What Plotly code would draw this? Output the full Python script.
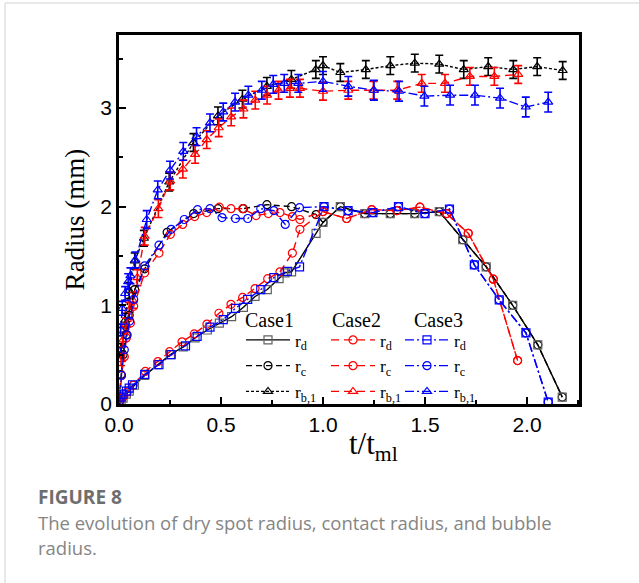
import plotly.graph_objects as go

# ---------------- data ----------------
c1_rd_t = [0.0, 0.01, 0.02, 0.036, 0.05, 0.076, 0.126, 0.19, 0.252, 0.315, 0.373, 0.433, 0.492, 0.552, 0.61, 0.667, 0.727, 0.785, 0.814, 0.846, 0.966, 1.0, 1.085, 1.205, 1.33, 1.45, 1.57, 1.685, 1.80, 1.93, 2.053, 2.173]
c1_rd_r = [0.0, 0.03, 0.06, 0.10, 0.13, 0.19, 0.29, 0.40, 0.50, 0.58, 0.67, 0.75, 0.82, 0.885, 0.98, 1.09, 1.16, 1.27, 1.33, 1.34, 1.73, 1.84, 2.00, 1.93, 1.93, 1.93, 1.95, 1.665, 1.39, 1.00, 0.60, 0.07]

c1_rc_t = [0.0, 0.01, 0.02, 0.036, 0.05, 0.077, 0.126, 0.236, 0.366, 0.485, 0.61, 0.725, 0.846, 0.966, 1.0, 1.085, 1.205, 1.33, 1.45, 1.57, 1.685, 1.80, 1.93, 2.053, 2.173]
c1_rc_r = [0.05, 0.30, 0.50, 0.70, 0.90, 1.16, 1.37, 1.74, 1.93, 1.98, 1.98, 2.02, 2.00, 1.92, 1.84, 2.00, 1.93, 1.93, 1.93, 1.95, 1.665, 1.39, 1.00, 0.60, 0.07]

c1_rb_t = [0.01, 0.03, 0.05, 0.077, 0.122, 0.246, 0.365, 0.485, 0.605, 0.725, 0.845, 0.965, 1.0, 1.085, 1.21, 1.33, 1.45, 1.57, 1.69, 1.81, 1.933, 2.05, 2.175]
c1_rb_r = [0.55, 0.85, 1.15, 1.45, 1.68, 2.25, 2.65, 2.92, 3.09, 3.22, 3.29, 3.39, 3.43, 3.36, 3.39, 3.43, 3.455, 3.445, 3.39, 3.42, 3.39, 3.42, 3.38]
c1_rb_e = [0.06, 0.07, 0.08, 0.08, 0.08, 0.09, 0.09, 0.09, 0.09, 0.09, 0.09, 0.09, 0.09, 0.09, 0.09, 0.09, 0.09, 0.09, 0.09, 0.09, 0.09, 0.09, 0.09]

c2_rd_t = [0.0, 0.02, 0.04, 0.07, 0.129, 0.191, 0.248, 0.309, 0.369, 0.431, 0.49, 0.549, 0.606, 0.667, 0.729, 0.789, 0.85, 0.887, 1.0, 1.116, 1.239, 1.362, 1.475, 1.606, 1.712, 1.835, 1.954]
c2_rd_r = [0.02, 0.07, 0.12, 0.19, 0.33, 0.43, 0.53, 0.63, 0.71, 0.81, 0.92, 1.01, 1.08, 1.17, 1.27, 1.34, 1.53, 1.77, 1.95, 1.88, 1.97, 1.96, 1.995, 1.93, 1.73, 1.265, 0.44]

c2_rc_t = [0.005, 0.012, 0.026, 0.036, 0.056, 0.072, 0.126, 0.196, 0.252, 0.312, 0.371, 0.43, 0.492, 0.549, 0.606, 0.672, 0.732, 0.789, 0.85, 0.887, 1.0, 1.116, 1.239, 1.362, 1.475, 1.606, 1.712, 1.835, 1.954]
c2_rc_r = [0.05, 0.29, 0.48, 0.67, 0.82, 0.99, 1.33, 1.53, 1.72, 1.82, 1.90, 1.94, 1.995, 1.98, 1.98, 1.91, 1.93, 1.94, 1.90, 1.87, 1.95, 1.88, 1.97, 1.96, 1.995, 1.93, 1.73, 1.265, 0.44]

c2_rb_t = [0.01, 0.02, 0.035, 0.05, 0.068, 0.09, 0.126, 0.193, 0.251, 0.313, 0.373, 0.43, 0.489, 0.55, 0.61, 0.668, 0.726, 0.782, 0.838, 0.887, 1.0, 1.124, 1.247, 1.364, 1.484, 1.598, 1.72, 1.84, 1.957]
c2_rb_r = [0.45, 0.65, 0.80, 0.95, 1.05, 1.28, 1.70, 1.98, 2.26, 2.38, 2.53, 2.68, 2.80, 2.91, 2.99, 3.08, 3.13, 3.18, 3.20, 3.20, 3.17, 3.18, 3.18, 3.18, 3.25, 3.25, 3.32, 3.32, 3.34]
c2_rb_e = [0.06, 0.07, 0.07, 0.08, 0.08, 0.08, 0.09, 0.09, 0.09, 0.09, 0.09, 0.09, 0.09, 0.09, 0.09, 0.09, 0.09, 0.09, 0.09, 0.09, 0.09, 0.09, 0.09, 0.09, 0.09, 0.09, 0.09, 0.09, 0.09]

c3_rd_t = [0.0, 0.01, 0.02, 0.036, 0.05, 0.066, 0.126, 0.196, 0.256, 0.326, 0.383, 0.446, 0.511, 0.571, 0.631, 0.695, 0.759, 0.825, 0.885, 1.005, 1.123, 1.245, 1.37, 1.50, 1.62, 1.742, 1.864, 1.995, 2.104]
c3_rd_r = [0.02, 0.07, 0.10, 0.13, 0.16, 0.195, 0.30, 0.40, 0.50, 0.59, 0.685, 0.78, 0.855, 0.97, 1.06, 1.16, 1.28, 1.345, 1.39, 2.00, 1.96, 1.94, 2.00, 1.93, 1.975, 1.41, 1.055, 0.72, 0.02]

c3_rc_t = [0.005, 0.012, 0.026, 0.04, 0.052, 0.072, 0.126, 0.196, 0.256, 0.32, 0.385, 0.446, 0.505, 0.571, 0.631, 0.695, 0.759, 0.815, 0.885, 1.005, 1.123, 1.245, 1.37, 1.50, 1.62, 1.742, 1.864, 1.995, 2.104]
c3_rc_r = [0.05, 0.29, 0.55, 0.70, 0.84, 1.06, 1.40, 1.61, 1.77, 1.87, 1.97, 1.98, 1.89, 1.88, 1.88, 1.98, 1.96, 1.82, 1.99, 2.00, 1.96, 1.94, 2.00, 1.93, 1.975, 1.41, 1.055, 0.72, 0.02]

c3_rb_t = [0.008, 0.016, 0.03, 0.045, 0.056, 0.08, 0.136, 0.19, 0.25, 0.315, 0.38, 0.446, 0.511, 0.569, 0.634, 0.70, 0.756, 0.81, 0.879, 1.0, 1.124, 1.25, 1.373, 1.497, 1.623, 1.745, 1.868, 1.994, 2.104]
c3_rb_r = [0.75, 0.97, 1.12, 1.24, 1.30, 1.46, 1.87, 2.17, 2.37, 2.56, 2.71, 2.85, 2.96, 3.06, 3.13, 3.18, 3.24, 3.25, 3.25, 3.27, 3.22, 3.18, 3.17, 3.12, 3.13, 3.13, 3.10, 3.01, 3.06]
c3_rb_e = [0.06, 0.07, 0.07, 0.08, 0.08, 0.08, 0.09, 0.09, 0.09, 0.09, 0.09, 0.09, 0.09, 0.09, 0.09, 0.09, 0.09, 0.09, 0.09, 0.10, 0.10, 0.10, 0.10, 0.10, 0.10, 0.10, 0.10, 0.10, 0.10]

case_names = ["Case1", "Case2", "Case3"]
series_labels = ["r<sub>d</sub>", "r<sub>c</sub>", "r<sub>b,1</sub>"]
x_ticks = [0.0, 0.5, 1.0, 1.5, 2.0]
x_ticklabels = ["0.0", "0.5", "1.0", "1.5", "2.0"]
y_ticks = [0, 1, 2, 3]
y_ticklabels = ["0", "1", "2", "3"]

# ---------------- figure ----------------
W, H = 639, 583
L, R, T, B = 119, 579, 35, 404   # plot area in pixels


def px_x(p):
    return (p - L) / (R - L)


def px_y(p):
    return (B - p) / (B - T)


SERIF = "Liberation Serif, Times New Roman, serif"
SANS = "Liberation Sans, Arial, sans-serif"
CAP = "Open Sans, Noto Sans, sans-serif"

fig = go.Figure()


def add(t, r, name, color, dash, symbol, legend, mcolor=None, err=None):
    kw = {}
    if err is not None:
        kw["error_y"] = dict(type="data", array=err, visible=True,
                             color=color, thickness=1.6, width=4)
    fig.add_trace(go.Scatter(
        x=t, y=r, mode="lines+markers", name=name, legend=legend,
        line=dict(color=color, width=1.4, dash=dash),
        marker=dict(symbol=symbol, size=8, color=mcolor or color,
                    line=dict(color=mcolor or color, width=1.2)),
        **kw))


BLACK, GRAY, RED, BLUE = "#000000", "#606060", "#ff0000", "#0000ff"
D1_RC, D1_RB = "6px,4px", "3px,2px"
D2 = "8px,5px"
D3 = "9px,3px,2px,3px"

# bubble radii (with error bars)
add(c1_rb_t, c1_rb_r, series_labels[2], BLACK, D1_RB, "triangle-up-open", "legend", err=c1_rb_e)
add(c2_rb_t, c2_rb_r, series_labels[2], RED, D2, "triangle-up-open", "legend2", err=c2_rb_e)
add(c3_rb_t, c3_rb_r, series_labels[2], BLUE, D3, "triangle-up-open", "legend3", err=c3_rb_e)
# contact radii
add(c1_rc_t, c1_rc_r, series_labels[1], BLACK, D1_RC, "circle-open", "legend")
add(c2_rc_t, c2_rc_r, series_labels[1], RED, D2, "circle-open", "legend2")
add(c3_rc_t, c3_rc_r, series_labels[1], BLUE, D3, "circle-open", "legend3")
# dry spot radii
add(c1_rd_t, c1_rd_r, series_labels[0], BLACK, "solid", "square-open", "legend", mcolor=GRAY)
add(c2_rd_t, c2_rd_r, series_labels[0], RED, D2, "circle-open", "legend2")
add(c3_rd_t, c3_rd_r, series_labels[0], BLUE, D3, "square-open", "legend3")

leg_common = dict(
    bgcolor="rgba(0,0,0,0)", borderwidth=0, traceorder="reversed",
    font=dict(family=SERIF, size=17.5, color="black"),
    itemwidth=44, itemclick=False, tracegroupgap=0,
    xanchor="left", yanchor="top", y=px_y(322),
)
title_font = dict(family=SERIF, size=20, color="black")

fig.update_layout(
    width=W, height=H,
    margin=dict(l=L, r=W - R, t=T, b=H - B, pad=0, autoexpand=False),
    paper_bgcolor="white", plot_bgcolor="white",
    showlegend=True,
    legend=dict(**leg_common, x=px_x(241)),
    legend2=dict(**leg_common, x=px_x(326)),
    legend3=dict(**leg_common, x=px_x(400)),
    xaxis=dict(
        range=[0, 2.255], showgrid=False, zeroline=False, automargin=False,
        tickmode="array", tickvals=x_ticks, ticktext=x_ticklabels,
        ticks="inside", ticklen=7, tickwidth=2, tickcolor="black",
        minor=dict(dtick=0.25, ticks="inside", ticklen=4, tickwidth=2, tickcolor="black"),
        showline=True, linecolor="black", linewidth=2.5, mirror=True,
        tickfont=dict(family=SANS, size=21, color="black"),
    ),
    yaxis=dict(
        range=[0, 3.74], showgrid=False, zeroline=False, automargin=False,
        tickmode="array", tickvals=y_ticks, ticktext=y_ticklabels,
        ticks="inside", ticklen=7, tickwidth=2, tickcolor="black",
        minor=dict(dtick=0.5, ticks="inside", ticklen=4, tickwidth=2, tickcolor="black"),
        showline=True, linecolor="black", linewidth=2.5, mirror=True,
        tickfont=dict(family=SANS, size=21, color="black"),
        title=dict(text="Radius (mm)", font=dict(family=SERIF, size=27, color="black"), standoff=8),
    ),
)

# legend column headers
for name, cx in zip(case_names, [269, 356, 438]):
    fig.add_annotation(xref="paper", yref="paper", x=px_x(cx), y=px_y(320),
                       text=name, showarrow=False, xanchor="center", yanchor="middle",
                       font=title_font)

# x-axis title (offset to the right as in the reference)
fig.add_annotation(xref="paper", yref="paper", x=px_x(373), y=px_y(446),
                   text="t/t<sub>ml</sub>", showarrow=False,
                   font=dict(family=SERIF, size=31, color="black"),
                   xanchor="center", yanchor="middle")

# caption
fig.add_annotation(xref="paper", yref="paper", x=px_x(36), y=px_y(497),
                   text="<b>FIGURE 8</b>", showarrow=False, xanchor="left", yanchor="middle",
                   font=dict(family=CAP, size=19, color="#6e6e6e"))
fig.add_annotation(xref="paper", yref="paper", x=px_x(36), y=px_y(522),
                   text="The evolution of dry spot radius, contact radius, and bubble",
                   showarrow=False, xanchor="left", yanchor="middle",
                   font=dict(family=CAP, size=18.5, color="#858585"))
fig.add_annotation(xref="paper", yref="paper", x=px_x(36), y=px_y(547),
                   text="radius.", showarrow=False, xanchor="left", yanchor="middle",
                   font=dict(family=CAP, size=18.5, color="#858585"))

# card border (light frame around the figure panel)
fig.add_shape(type="line", xref="paper", yref="paper",
              x0=px_x(5), x1=px_x(W + 5), y0=px_y(3), y1=px_y(3),
              line=dict(color="#e0e0e0", width=1.5))
fig.add_shape(type="line", xref="paper", yref="paper",
              x0=px_x(5), x1=px_x(5), y0=px_y(3), y1=px_y(H + 5),
              line=dict(color="#e0e0e0", width=1.5))

fig.write_html("out.html", config={"displayModeBar": False},
               post_script="document.body.style.margin='0px';document.body.style.overflow='hidden';")
